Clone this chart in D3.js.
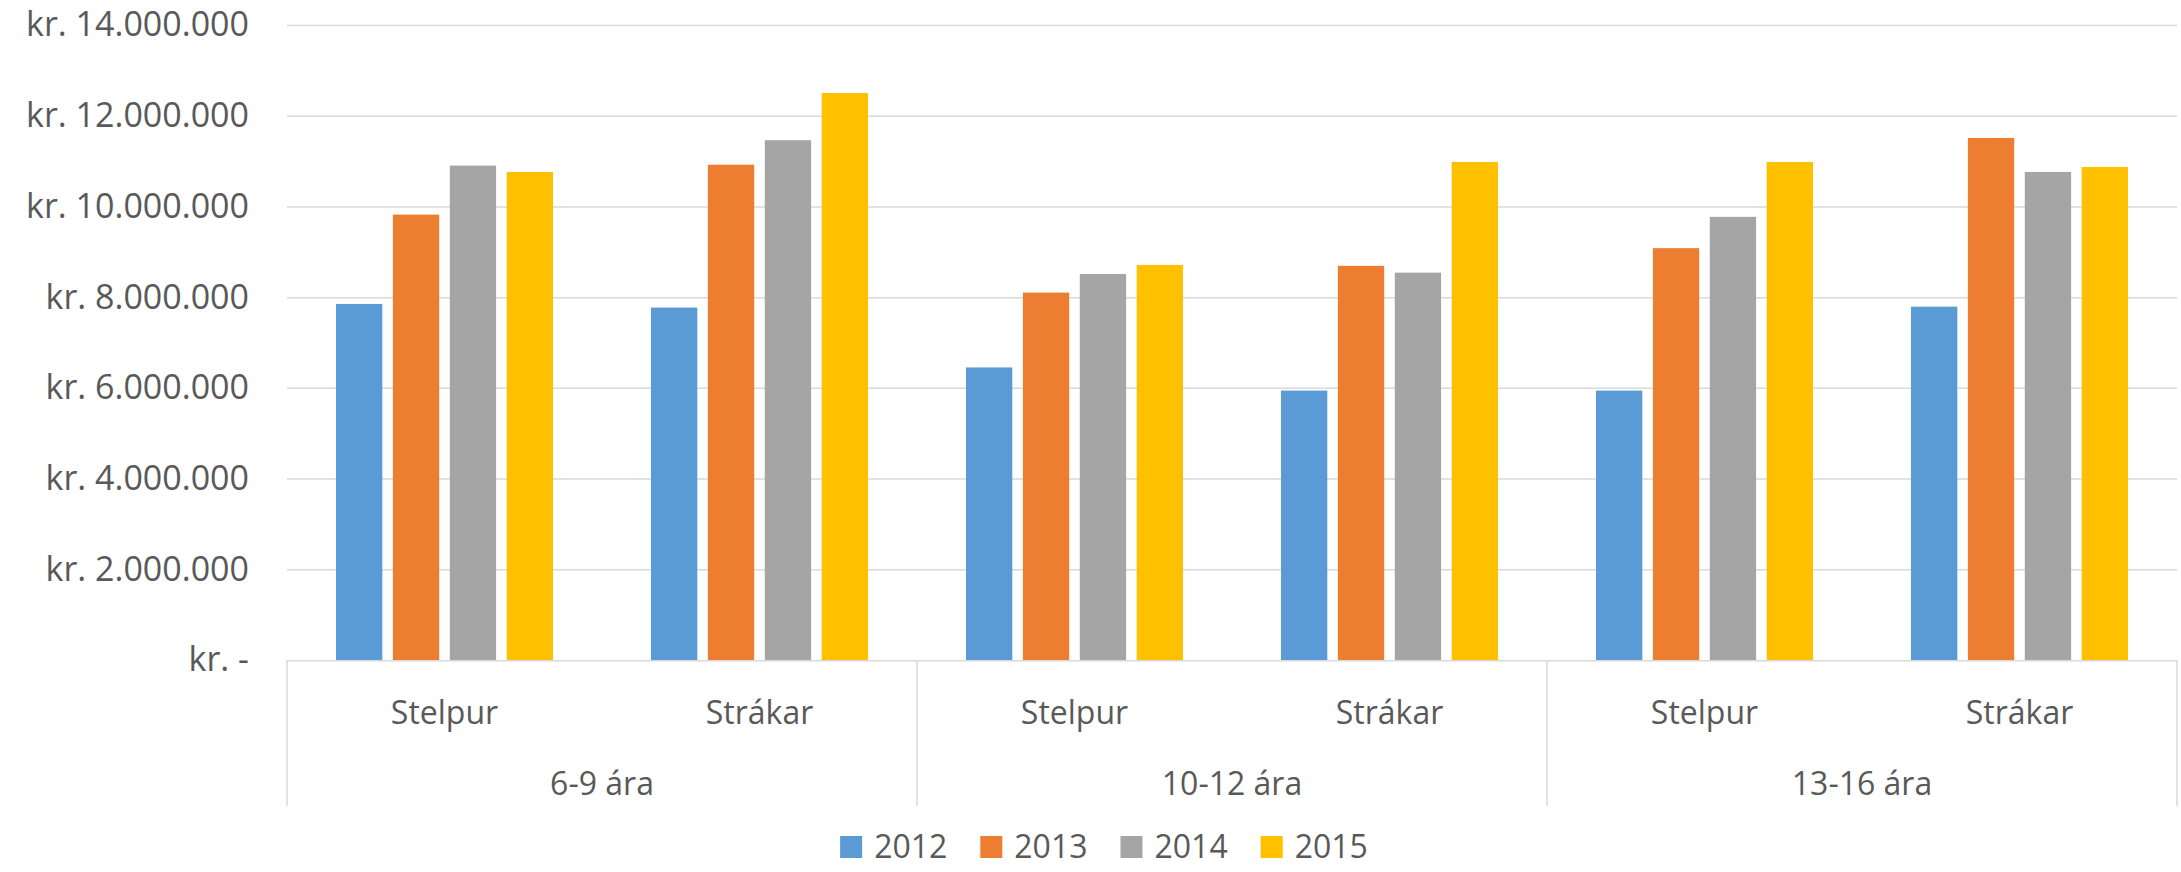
<!DOCTYPE html>
<html>
<head>
<meta charset="utf-8">
<script src="https://cdn.jsdelivr.net/npm/d3@7"></script>
<style>
  html, body { margin: 0; padding: 0; background: #fff; }
  svg text { font-family: "Open Sans", "Noto Sans", sans-serif; fill: #595959; }
</style>
</head>
<body>
<svg id="chart" width="2181" height="872"></svg>
<script>
// ---- data ----
const groups = ["6-9 ára", "10-12 ára", "13-16 ára"];
const subgroups = ["Stelpur", "Strákar"];
const years = ["2012", "2013", "2014", "2015"];
const colors = ["#5B9BD5", "#ED7D31", "#A5A5A5", "#FFC000"];
// values in order: 6-9 Stelpur, 6-9 Strákar, 10-12 Stelpur, 10-12 Strákar, 13-16 Stelpur, 13-16 Strákar
const values2012 = [7850000, 7770000, 6450000, 5940000, 5940000, 7790000];
const values2013 = [9820000, 10920000, 8100000, 8690000, 9080000, 11510000];
const values2014 = [10900000, 11460000, 8510000, 8540000, 9770000, 10760000];
const values2015 = [10760000, 12500000, 8710000, 10980000, 10980000, 10870000];
const tickValues = [0, 2000000, 4000000, 6000000, 8000000, 10000000, 12000000, 14000000];
const tickLabels = ["kr. -", "kr. 2.000.000", "kr. 4.000.000", "kr. 6.000.000", "kr. 8.000.000",
                    "kr. 10.000.000", "kr. 12.000.000", "kr. 14.000.000"];

const seriesValues = [values2012, values2013, values2014, values2015];
const categories = [];
groups.forEach(g => subgroups.forEach(s => categories.push(g + "|" + s)));

// ---- layout ----
const svg = d3.select("#chart");
const plotL = 287, plotR = 2177, plotT = 25, plotB = 660, axisB = 806;

const x0 = d3.scaleBand().domain(categories).range([plotL, plotR])
  .paddingInner(0.311).paddingOuter(0.1555);
const x1 = d3.scaleBand().domain(years).range([0, x0.bandwidth()]).paddingInner(0.186);
const xg = d3.scaleBand().domain(groups).range([plotL, plotR]);
const y = d3.scaleLinear().domain([0, 14000000]).range([plotB, plotT]);

// gridlines
const grid = svg.append("g").attr("transform", `translate(${plotL},0)`)
  .call(d3.axisLeft(y).tickValues(tickValues.slice(1)).tickSize(-(plotR - plotL)).tickFormat(""));
grid.select(".domain").remove();
grid.selectAll("line").attr("stroke", "#d9d9d9").attr("stroke-width", 1.5);

// y axis labels
const yAxis = svg.append("g").attr("transform", `translate(${plotL},0)`)
  .call(d3.axisLeft(y).tickValues(tickValues).tickSize(0).tickPadding(38)
    .tickFormat((d, i) => tickLabels[i]));
yAxis.select(".domain").remove();
yAxis.selectAll("text").attr("font-size", 34).style("font-family", "'Open Sans', sans-serif").attr("fill", "#595959");

// bars
const catG = svg.append("g").selectAll("g").data(categories).join("g")
  .attr("transform", d => `translate(${x0(d)},0)`);
catG.selectAll("rect")
  .data((d, ci) => years.map((yr, si) => ({ yr, si, v: seriesValues[si][ci] })))
  .join("rect")
  .attr("x", d => x1(d.yr))
  .attr("width", x1.bandwidth())
  .attr("y", d => y(d.v))
  .attr("height", d => y(0) - y(d.v))
  .attr("fill", d => colors[d.si]);

// category axis lines
svg.append("line").attr("x1", plotL).attr("x2", plotR).attr("y1", plotB + 0.75).attr("y2", plotB + 0.75)
  .attr("stroke", "#d9d9d9").attr("stroke-width", 1.5);
const bounds = groups.map(g => xg(g)).concat([plotR]);
svg.append("g").selectAll("line").data(bounds).join("line")
  .attr("x1", d => d).attr("x2", d => d).attr("y1", plotB).attr("y2", axisB)
  .attr("stroke", "#d9d9d9").attr("stroke-width", 1.5);

// sub labels
svg.append("g").selectAll("text").data(categories).join("text")
  .attr("x", d => x0(d) + x0.bandwidth() / 2)
  .attr("y", 713).attr("dy", "0.35em")
  .attr("text-anchor", "middle").attr("font-size", 32)
  .text(d => d.split("|")[1]);

// group labels
svg.append("g").selectAll("text").data(groups).join("text")
  .attr("x", d => xg(d) + xg.bandwidth() / 2)
  .attr("y", 784).attr("dy", "0.35em")
  .attr("text-anchor", "middle").attr("font-size", 32)
  .text(d => d);

// legend
const legend = svg.append("g");
const items = legend.selectAll("g").data(years).join("g");
items.append("rect").attr("width", 22).attr("height", 22).attr("y", -11)
  .attr("fill", (d, i) => colors[i]);
items.append("text").attr("x", 34).attr("dy", "0.35em").attr("font-size", 32).text(d => d);
let cx = 0;
items.each(function () {
  d3.select(this).attr("transform", `translate(${cx},0)`);
  cx += this.getBBox().width + 33;
});
const totalW = cx - 33;
legend.attr("transform", `translate(${1104 - totalW / 2},847)`);
</script>
</body>
</html>
